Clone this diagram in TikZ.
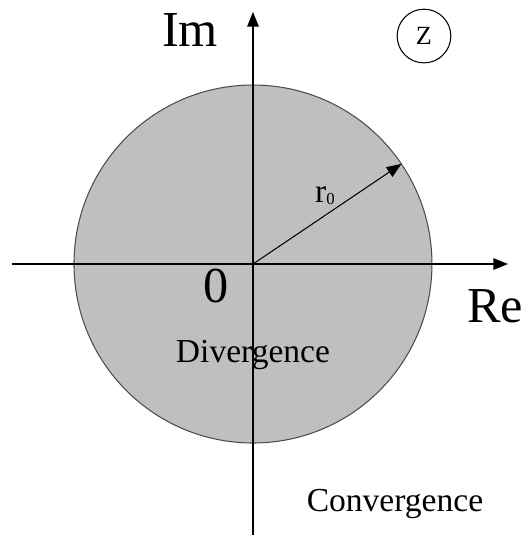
\documentclass[tikz,border=0pt]{standalone}
\usepackage{fontspec}
\setmainfont{Liberation Serif}
\usetikzlibrary{arrows.meta}
\begin{document}
\begin{tikzpicture}[line width=0.7pt,
    axis/.style={-{Triangle[length=7pt,width=5.5pt]}},
    big/.style={font=\fontsize{24}{28}\selectfont, inner sep=0pt},
    region/.style={font=\fontsize{16}{19}\selectfont, inner sep=0pt}]
  % frame of the reference picture
  \useasboundingbox (-4.240,-4.592) rectangle (4.575,4.425);
  \coordinate (o) at (0,0);
  \fill[black!25] (o) circle (3);
  \draw[black!70, line width=0.5pt] (o) circle (3);
  \coordinate (xl) at (-4.039,0); \coordinate (xr) at (4.274,0);
  \coordinate (yb) at (0,-4.542); \coordinate (yt) at (0,4.224);
  \coordinate (rt) at (34:3);
  \draw[axis] (xl) -- (xr);
  \draw[axis] (yb) -- (yt);
  \draw[axis, line width=0.5pt] (o) -- (rt);
  \node[big] (im) at (-1.056,3.922) {Im};
  \node[big] (re) at (4.056,-0.704) {Re};
  \node[big] (zero) at (-0.620,-0.369) {0};
  \node[draw, circle, line width=0.5pt, minimum size=0.9cm, inner sep=0pt,
        font=\fontsize{12.5}{15}\selectfont] (z) at (2.866,3.821) {Z};
  \node[font=\fontsize{16}{19}\selectfont, inner sep=0pt] (r0) at (1.207,1.140)
        {r{\fontsize{8}{10}\selectfont\raisebox{-0.3ex}{0}}};
  \node[region] (div) at (0,-1.525) {Divergence};
  \node[region] (conv) at (2.380,-4.022) {Convergence};
\end{tikzpicture}
\end{document}
